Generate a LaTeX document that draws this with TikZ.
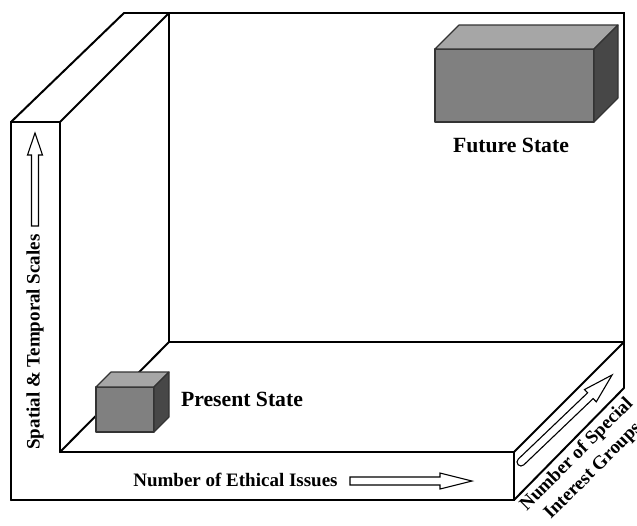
\documentclass[tikz,border=0pt]{standalone}
\usepackage{fontspec}
\setmainfont{Liberation Serif}
\begin{document}
\begin{tikzpicture}[x=1pt,y=-1pt,
  wall/.style={line width=2pt,line join=miter,line cap=round},
  boxline/.style={draw=black!80,line width=1.1pt,line join=round},
  frontface/.style={boxline,fill=black!50},
  topface/.style={boxline,fill=black!35},
  sideface/.style={boxline,fill=black!72},
  hollow/.style={draw=black,line width=1.1pt,fill=white,line join=miter},
  statelabel/.style={font=\fontsize{21.7}{24}\selectfont\bfseries,inner sep=0pt},
  axislabel/.style={font=\fontsize{19}{23}\selectfont\bfseries,inner sep=0pt,align=center}]
\useasboundingbox (0,0) rectangle (637,525);
% key corners
\coordinate (lwA) at (11,122);
\coordinate (lwB) at (60,122);
\coordinate (lwC) at (124,13);
\coordinate (bwTL) at (169,13);
\coordinate (bwTR) at (624,13);
\coordinate (bwBL) at (169,342);
\coordinate (bwBR) at (624,342);
\coordinate (rsB) at (624,388);
\coordinate (flTL) at (60,452);
\coordinate (flTR) at (514,452);
\coordinate (flBL) at (11,500);
\coordinate (flBR) at (514,500);
% back wall
\draw[wall] (lwC) -- (bwTR) -- (rsB);
\draw[wall] (bwTL) -- (bwBL) -- (bwBR);
% left wall
\draw[wall] (flBL) -- (lwA) -- (lwB) -- (flTL);
\draw[wall] (lwA) -- (lwC);
\draw[wall] (lwB) -- (bwTL);
% floor slab
\draw[wall] (flTL) -- (flTR) -- (flBR) -- (flBL);
\draw[wall] (flTL) -- (bwBL);
\draw[wall] (flTR) -- (bwBR);
\draw[wall] (flBR) -- (rsB);
% present state box
\draw[frontface] (96,387) rectangle (154,432);
\draw[topface] (96,387) -- (111,372) -- (169,372) -- (154,387) -- cycle;
\draw[sideface] (154,387) -- (169,372) -- (169,417) -- (154,432) -- cycle;
% future state box
\draw[frontface] (435,49) rectangle (594,122);
\draw[topface] (435,49) -- (459,25) -- (618,25) -- (594,49) -- cycle;
\draw[sideface] (594,49) -- (618,25) -- (618,98) -- (594,122) -- cycle;
% labels
\node[statelabel] (present) at (242,399) {Present State};
\node[statelabel] (future) at (511,145) {Future State};
\node[axislabel] (ethical) at (235.5,480) {Number of Ethical Issues};
\node[axislabel,rotate=90] (spatial) at (35,342) {Spatial \& Temporal Scales};
\node[axislabel,rotate=45] (groups) at (585,463) {Number of Special\\Interest Groups};
% hollow arrows
\draw[hollow] (31.5,226) -- (31.5,155) -- (27.5,155) -- (35,133) -- (42.5,155) -- (38.5,155) -- (38.5,226) -- cycle;
\draw[hollow] (350,477) -- (440,477) -- (440,473) -- (472,481) -- (440,489) -- (440,485) -- (350,485) -- cycle;
\begin{scope}[shift={(521,462)},rotate=43.7]
\draw[hollow] (0,-4) -- (96,-4) -- (96,-8.5) -- (126,0) -- (96,8.5) -- (96,4) -- (0,4) arc[start angle=90,end angle=270,radius=4] -- cycle;
\end{scope}
\end{tikzpicture}
\end{document}
